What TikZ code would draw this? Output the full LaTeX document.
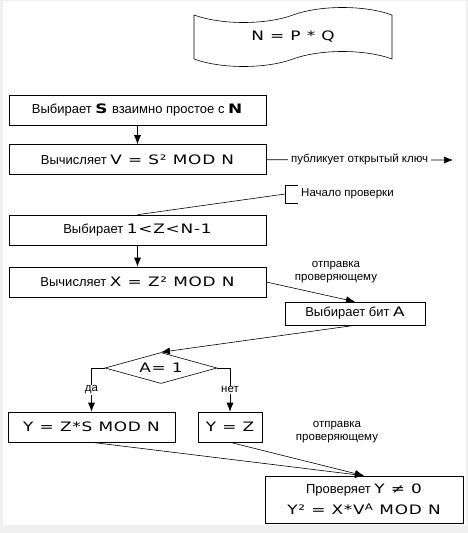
\documentclass[tikz,border=0pt]{standalone}
\usepackage{fontspec}
\setmainfont{Liberation Sans}
\newfontfamily\eqfont[FakeStretch=1.3,LetterSpace=6]{DejaVu Sans}
\usetikzlibrary{shapes.geometric,shapes.symbols,arrows.meta}
\newcommand{\eq}[1]{{\eqfont #1}}

\begin{document}
\begin{tikzpicture}[x=1pt,y=-1pt]
	\tikzstyle{block}=[draw,line width=.6pt,minimum width=257pt,minimum height=30pt,inner sep=0pt,font=\fontsize{13}{15}\selectfont]
	\tikzstyle{link}=[draw,line width=.6pt,-{Latex[length=9pt,width=7pt]}]
	\tikzstyle{line}=[draw,line width=.6pt]
	\tikzstyle{note}=[font=\fontsize{11.5}{13.5}\selectfont,align=center,inner sep=1pt]
	% background
	\fill[gray!12] (0,0) rectangle (468,533);
	\fill[white] (3,1) rectangle (466,525);
	% key
	\node[draw,line width=.6pt,shape=tape,tape bend height=15pt,minimum width=198pt,minimum height=59pt,font=\fontsize{13}{15}\selectfont] (key) at (293,37) {\eq{N = P * Q}};
	% prover side
	\node[block] (pick) at (137.5,110) {Выбирает \eq{\textbf{S}} взаимно простое с \eq{\textbf{N}}};
	\node[block] (calc) at (137.5,159.5) {Вычисляет \eq{V = S² MOD N}};
	\node[block] (rand) at (137.5,230) {Выбирает \eq{1<Z<N-1}};
	\node[block] (sqr) at (137.5,282) {Вычисляет \eq{X = Z² MOD N}};
	% verifier side
	\node[block,minimum width=140pt,minimum height=23pt] (bit) at (355,313.5) {Выбирает бит \eq{A}};
	\node[draw,line width=.6pt,shape=diamond,aspect=3.6,minimum width=112pt,minimum height=31pt,inner sep=0pt,font=\fontsize{13}{15}\selectfont] (test) at (161,368) {\eq{A= 1}};
	\node[block,minimum width=167pt] (yes) at (91.5,427) {\eq{Y = Z*S MOD N}};
	\node[block,minimum width=64pt] (no) at (230,427) {\eq{Y = Z}};
	\node[block,minimum width=198pt,minimum height=47pt,align=center] (check) at (364,499.5) {Проверяет \eq{Y ≠ 0}\\[6pt]\eq{Y² = X*V\textsuperscript{A} MOD N}};
	% notes
	\node[note,anchor=west,inner sep=0pt] (start) at (301,194) {Начало проверки};
	\coordinate (brk) at (285,194);
	\coordinate (pub) at (453,160);
	\node[note] (send1) at (336,272) {отправка\\проверяющему};
	\node[note] (send2) at (337,432) {отправка\\проверяющему};
	% connectors
	\draw[link] (pick) -- (calc);
	\draw[link] (calc) -- node[note,fill=white,inner sep=3pt] {публикует открытый ключ} (pub);
	\draw[line] (298,185) -- (285,185) -- (285,203) -- (298,203);
	\draw[line] (brk) -- (rand.north);
	\draw[link] (rand) -- (sqr);
	\draw[link] (sqr.east) -- (bit.north);
	\draw[link] (bit.south) -- (test.north);
	\draw[link] (test.west) -| node[note,pos=.75,fill=white] {да} (yes.north);
	\draw[link] (test.east) -| node[note,pos=.75,fill=white] {нет} (no.north);
	\draw[link] (yes.south) -- (check.north);
	\draw[link] (no.south) -- (check.north);
\end{tikzpicture}
\end{document}
